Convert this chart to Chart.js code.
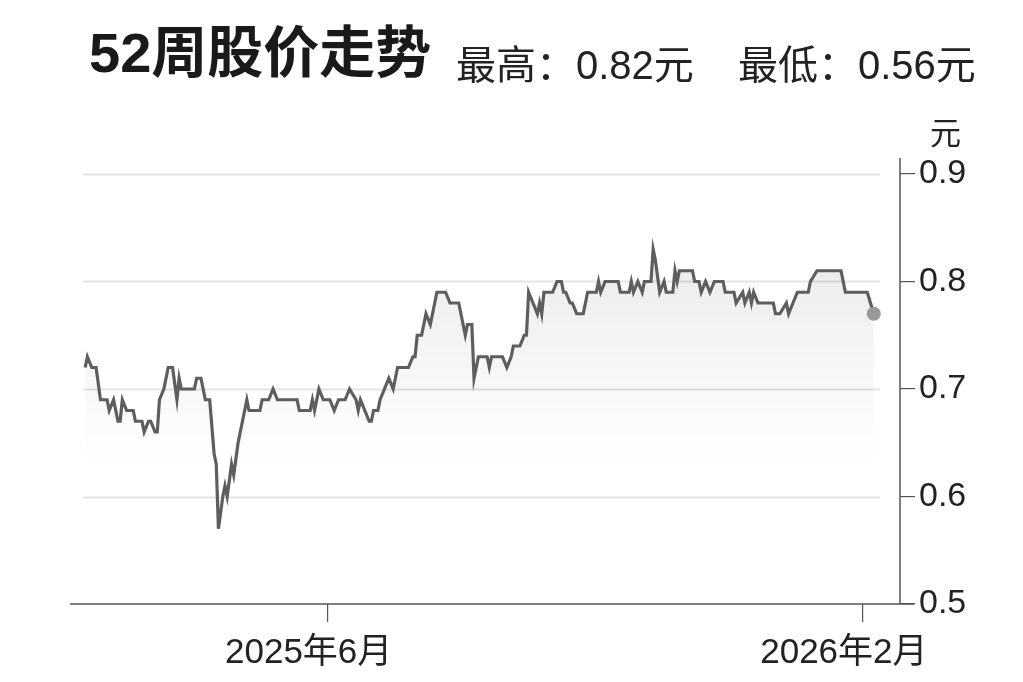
<!DOCTYPE html>
<html>
<head>
<meta charset="utf-8">
<script src="https://cdn.jsdelivr.net/npm/chart.js@4.4.1/dist/chart.umd.min.js"></script>
<style>
  html, body { margin: 0; padding: 0; background: #fff; }
  #wrap { position: relative; width: 1023px; height: 682px; overflow: hidden; }
  #chart { position: absolute; left: 0; top: 0; }
  .title { position: absolute; left: 89px; top: 22px; font-family: "Liberation Sans", "Noto Sans CJK SC", sans-serif; font-weight: bold; font-size: 56px; color: #1a1a1a; white-space: nowrap; line-height: 1.1; }
  .sub { position: absolute; top: 43px; font-family: "Liberation Sans", "Noto Sans CJK SC", sans-serif; font-size: 40px; color: #222; white-space: nowrap; line-height: 1.1; }
  .unit { position: absolute; left: 930px; top: 108px; font-family: "Noto Sans CJK SC", sans-serif; font-size: 31px; color: #222; }
</style>
</head>
<body>
<div id="wrap">
  <canvas id="chart" width="1023" height="682"></canvas>
  <div class="title">52周股价走势</div>
  <div class="sub" style="left:456px">最高：0.82元</div>
  <div class="sub" style="left:738px">最低：0.56元</div>
  <div class="unit">元</div>
</div>
<script>
// days since 2025-02-10, closing price (元)
const days = [
  0, 1, 3, 5, 7, 10, 11, 13, 15, 16, 17, 19, 22, 23, 26, 27, 29, 30, 32, 33,
  34, 36, 38, 40, 42, 43, 44, 50, 51, 53, 55, 57, 59, 60, 61, 63, 64, 65, 67, 68,
  70, 72, 74, 75, 80, 81, 84, 86, 88, 97, 98, 103, 104, 105, 107, 109, 112, 114, 116, 119,
  121, 124, 125, 126, 130, 131, 132, 134, 135, 137, 139, 141, 143, 148, 150, 151, 152, 154, 156, 158,
  161, 165, 167, 171, 174, 175, 177, 178, 180, 184, 185, 186, 191, 193, 195, 196, 199, 201, 202, 203,
  205, 207, 208, 209, 210, 214, 216, 218, 219, 220, 222, 223, 225, 228, 230, 234, 235, 236, 238, 244,
  245, 249, 250, 251, 253, 255, 256, 259, 260, 261, 263, 265, 266, 269, 270, 271, 272, 278, 279, 281,
  282, 284, 286, 288, 292, 293, 297, 298, 301, 302, 304, 305, 306, 308, 315, 316, 318, 321, 322, 326,
  331, 332, 335, 346, 348, 358, 361
];
const prices = [
  0.72, 0.73, 0.72, 0.72, 0.69, 0.69, 0.68, 0.69, 0.67, 0.67, 0.69, 0.68, 0.68, 0.67, 0.67, 0.66, 0.67, 0.67, 0.66, 0.66,
  0.69, 0.70, 0.72, 0.72, 0.69, 0.71, 0.70, 0.70, 0.71, 0.71, 0.69, 0.69, 0.64, 0.63, 0.57, 0.60, 0.61, 0.60, 0.63, 0.62,
  0.65, 0.67, 0.69, 0.68, 0.68, 0.69, 0.69, 0.70, 0.69, 0.69, 0.68, 0.68, 0.69, 0.68, 0.70, 0.69, 0.69, 0.68, 0.69, 0.69,
  0.70, 0.69, 0.68, 0.69, 0.67, 0.67, 0.68, 0.68, 0.69, 0.70, 0.71, 0.70, 0.72, 0.72, 0.73, 0.73, 0.75, 0.75, 0.77, 0.76,
  0.79, 0.79, 0.78, 0.78, 0.75, 0.76, 0.76, 0.71, 0.73, 0.73, 0.72, 0.73, 0.73, 0.72, 0.73, 0.74, 0.74, 0.75, 0.75, 0.79,
  0.78, 0.77, 0.78, 0.77, 0.79, 0.79, 0.80, 0.80, 0.79, 0.79, 0.78, 0.78, 0.77, 0.77, 0.79, 0.79, 0.80, 0.79, 0.80, 0.80,
  0.79, 0.79, 0.80, 0.79, 0.80, 0.79, 0.80, 0.80, 0.83, 0.82, 0.79, 0.80, 0.79, 0.79, 0.81, 0.80, 0.81, 0.81, 0.80, 0.80,
  0.79, 0.80, 0.79, 0.80, 0.80, 0.79, 0.79, 0.78, 0.79, 0.78, 0.79, 0.78, 0.79, 0.78, 0.78, 0.77, 0.77, 0.78, 0.77, 0.79,
  0.79, 0.80, 0.81, 0.81, 0.79, 0.79, 0.77
];
const xTickDays = [111, 356];
const xTickLabels = ['2025年6月', '2026年2月'];
const yTicks = [0.5, 0.6, 0.7, 0.8, 0.9];

const points = days.map((d, i) => ({ x: d, y: prices[i] }));
const lastIndex = points.length - 1;

// light grid lines + axis lines that run past the plot area
const framePlugin = {
    id: 'frame',
    beforeDatasetsDraw(chart) {
        const { ctx, chartArea, scales } = chart;
        ctx.save();
        ctx.strokeStyle = '#e4e4e4';
        ctx.lineWidth = 2;
        yTicks.slice(1).forEach(v => {
            const y = Math.round(scales.y.getPixelForValue(v)) + 0.5;
            ctx.beginPath();
            ctx.moveTo(chartArea.left, y);
            ctx.lineTo(chartArea.right - 20, y);
            ctx.stroke();
        });
        ctx.restore();
    },
    afterDraw(chart) {
        const { ctx, chartArea } = chart;
        ctx.save();
        ctx.strokeStyle = '#555';
        ctx.lineWidth = 1.5;
        ctx.beginPath();
        ctx.moveTo(chartArea.left - 13, chartArea.bottom);
        ctx.lineTo(chartArea.right + 14, chartArea.bottom);
        ctx.moveTo(chartArea.right, chartArea.top - 16);
        ctx.lineTo(chartArea.right, chartArea.bottom);
        ctx.stroke();
        ctx.restore();
    }
};

const ctx = document.getElementById('chart').getContext('2d');
new Chart(ctx, {
    type: 'line',
    data: {
        datasets: [{
            data: points,
            borderColor: '#5e5e5e',
            borderWidth: 3.2,
            tension: 0,
            fill: 'start',
            backgroundColor: (context) => {
                const chart = context.chart;
                const { chartArea, scales } = chart;
                if (!chartArea) return 'rgba(0,0,0,0)';
                const g = chart.ctx.createLinearGradient(0, chartArea.top, 0, scales.y.getPixelForValue(0.63));
                g.addColorStop(0, 'rgba(0,0,0,0.11)');
                g.addColorStop(0.5, 'rgba(0,0,0,0.05)');
                g.addColorStop(1, 'rgba(0,0,0,0)');
                return g;
            },
            pointRadius: (c) => c.dataIndex === lastIndex ? 7 : 0,
            pointBackgroundColor: '#999999',
            pointBorderWidth: 0,
            pointHoverRadius: 0
        }]
    },
    options: {
        responsive: false,
        animation: false,
        layout: { padding: { left: 83, top: 174, right: 0, bottom: 0 } },
        plugins: {
            legend: { display: false },
            tooltip: { enabled: false }
        },
        scales: {
            x: {
                type: 'linear',
                min: -1,
                max: 373,
                afterFit: (scale) => { scale.height = 78; },
                afterBuildTicks: (scale) => { scale.ticks = xTickDays.map(v => ({ value: v })); },
                ticks: {
                    autoSkip: false,
                    maxRotation: 0,
                    padding: 10,
                    labelOffset: -19,
                    color: '#222',
                    font: { family: '"Liberation Sans", "Noto Sans CJK SC", sans-serif', size: 35 },
                    callback: (value) => xTickLabels[xTickDays.indexOf(value)]
                },
                grid: {
                    drawOnChartArea: false,
                    drawTicks: true,
                    tickLength: 18,
                    color: '#555',
                    lineWidth: 1.2
                },
                border: { display: false }
            },
            y: {
                position: 'right',
                min: 0.5,
                max: 0.9,
                afterFit: (scale) => { scale.width = 123; },
                afterBuildTicks: (scale) => { scale.ticks = yTicks.map(v => ({ value: v })); },
                ticks: {
                    padding: 4,
                    color: '#222',
                    font: { family: '"Liberation Sans", sans-serif', size: 34 },
                    callback: (value) => value.toFixed(1)
                },
                grid: {
                    drawOnChartArea: false,
                    drawTicks: true,
                    tickLength: 15,
                    color: '#555',
                    lineWidth: 1.2
                },
                border: { display: false }
            }
        }
    },
    plugins: [framePlugin]
});
</script>
</body>
</html>
